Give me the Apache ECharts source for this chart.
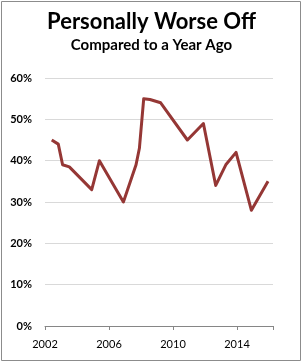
<!DOCTYPE html>
<html><head><meta charset="utf-8">
<script src="https://cdn.jsdelivr.net/npm/echarts@6/dist/echarts.min.js"></script>
<style>html,body{margin:0;padding:0;background:#fff}#c{width:303px;height:363px}</style>
</head><body><div id="c"></div>
<script>
const years = [2002.42, 2002.83, 2003.1, 2003.52, 2004.92, 2005.4, 2006.9, 2007.69, 2007.9, 2008.17, 2008.56, 2009.23, 2010.9, 2011.9, 2012.67, 2013.3, 2013.94, 2014.9, 2015.94];
const worseOff = [45, 44, 39, 38.5, 33, 40, 30, 39, 43, 55, 54.8, 54, 45, 49, 34, 39, 42, 28, 35];
const xTicks = [2002, 2006, 2010, 2014];
const yTicks = [0, 10, 20, 30, 40, 50, 60];
const titleText = 'Personally Worse Off';
const subtitleText = 'Compared to a Year Ago';

const font = 'Lato';
const chart = echarts.init(document.getElementById('c'), null, {renderer: 'canvas'});
chart.setOption({
  animation: false,
  backgroundColor: '#fff',
  title: [
    {text: titleText, left: 'center', top: 6, textStyle: {fontFamily: font, fontWeight: 'bold', fontSize: 22, color: '#000'}},
    {text: subtitleText, left: 'center', top: 33, textStyle: {fontFamily: font, fontWeight: 'bold', fontSize: 15, color: '#000'}}
  ],
  graphic: [{type: 'rect', shape: {x: 1.5, y: 1.5, width: 299, height: 359}, style: {fill: 'none', stroke: '#8c8c8c', lineWidth: 1}, silent: true}],
  grid: {left: 45, right: 30, top: 78, bottom: 37},
  xAxis: [{
    type: 'value', min: xTicks[0], max: 2016.25, interval: 4,
    axisLine: {show: true, lineStyle: {color: '#868686', width: 1}},
    axisTick: {show: true, length: 4, lineStyle: {color: '#868686'}},
    axisLabel: {margin: 13, fontFamily: font, fontSize: 11, color: '#000', showMaxLabel: false,
      formatter: v => xTicks.includes(v) ? String(v) : ''},
    splitLine: {show: false}
  }, {
    type: 'value', position: 'bottom', min: 0, max: 1, interval: 1,
    axisLine: {show: false}, axisTick: {show: true, length: 4, lineStyle: {color: '#868686'}},
    axisLabel: {show: false}, splitLine: {show: false}
  }],
  yAxis: {
    type: 'value', min: yTicks[0], max: yTicks[yTicks.length - 1], interval: 10,
    axisLine: {show: false}, axisTick: {show: false},
    axisLabel: {margin: 13, fontFamily: font, fontSize: 11, fontWeight: 'bold', color: '#000', formatter: '{value}%'},
    splitLine: {lineStyle: {color: '#d9d9d9', width: 1}}
  },
  series: [{
    type: 'line', xAxisIndex: 0,
    data: years.map((y, i) => [y, worseOff[i]]),
    showSymbol: false, symbol: 'none',
    lineStyle: {color: '#953735', width: 3, join: 'round'}
  }]
});
</script></body></html>
